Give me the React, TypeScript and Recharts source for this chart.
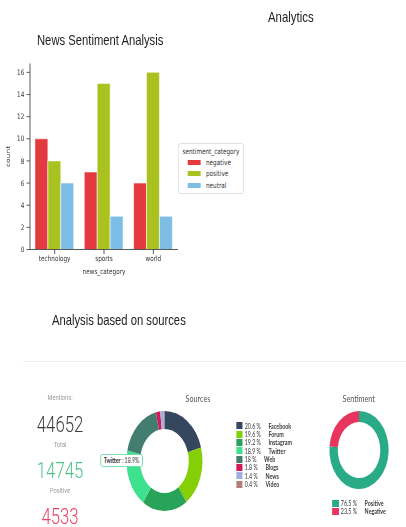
import React from 'react';
import { BarChart, Bar, XAxis, YAxis, Legend, Label, PieChart, Pie, Cell } from 'recharts';

// ---------- data ----------
const categories = ['technology', 'sports', 'world'];
const seriesNames = ['negative', 'positive', 'neutral'];
const seriesColors = ['#e33a3f', '#a9c21f', '#7dbde6'];
const negativeCounts = [10, 7, 6];
const positiveCounts = [8, 15, 16];
const neutralCounts = [6, 3, 3];
const yTicks = [0, 2, 4, 6, 8, 10, 12, 14, 16];

const sourceNames = ['Facebook', 'Forum', 'Instagram', 'Twitter', 'Web', 'Blogs', 'News', 'Video'];
const sourceShares = [20.6, 19.6, 19.2, 18.9, 18, 1.8, 1.4, 0.4];
const sourceColors = ['#34475f', '#84cf06', '#29a25a', '#3fe08e', '#437d6f', '#d3195a', '#9fb0e0', '#b0807a'];

const sentimentNames = ['Positive', 'Negative'];
const sentimentShares = [76.5, 23.5];
const sentimentColors = ['#2aab88', '#e83560'];

const mentionTotal = 44652;
const mentionPositive = 14745;
const mentionNegative = 4533;

// ---------- derived tables ----------
const barData = categories.map((c, i) => ({
  category: c,
  negative: negativeCounts[i],
  positive: positiveCounts[i],
  neutral: neutralCounts[i],
}));
const sourceData = sourceNames.map((n, i) => ({ name: n, value: sourceShares[i] }));
const sentimentData = sentimentNames.map((n, i) => ({ name: n, value: sentimentShares[i] }));

const S = 0.76;
const W = 534;
const dv = 'DejaVu Sans, sans-serif';
const lato = 'Lato, sans-serif';
const rob = 'Roboto, sans-serif';

const BarLegend = () => (
  <div style={{ width: 87, height: 51, boxSizing: 'border-box', border: '1px solid #dcdcdc', borderRadius: 3, background: '#fff', fontFamily: dv, fontSize: 7.5, color: '#333' }}>
    <div style={{ textAlign: 'center', marginTop: 1.5, height: 11, lineHeight: '11px' }}>sentiment_category</div>
    {seriesNames.map((n, i) => (
      <div key={n} style={{ display: 'flex', alignItems: 'center', height: 11.5, marginLeft: 12 }}>
        <span style={{ display: 'inline-block', flexShrink: 0, width: 17, height: 5, background: seriesColors[i], marginRight: 7 }} />
        <span style={{ lineHeight: '11.5px' }}>{n}</span>
      </div>
    ))}
  </div>
);

const PieLegend = (props: any) => {
  const { names, shares, colors, rowH } = props;
  return (
    <div style={{ fontFamily: lato, fontSize: 7, color: '#333' }}>
      {names.map((n: string, i: number) => (
        <div key={n} style={{ display: 'flex', alignItems: 'center', height: rowH, whiteSpace: 'nowrap' }}>
          <span style={{ display: 'inline-block', flexShrink: 0, width: 8.5, height: 7, background: colors[i], marginRight: 3 }} />
          <span style={{ lineHeight: rowH + 'px' }}>{shares[i]} %</span>
          <span style={{ lineHeight: rowH + 'px', marginLeft: 10, fontWeight: 700, color: '#3a3a3a' }}>{n}</span>
        </div>
      ))}
    </div>
  );
};

const txt = (content: any, cx: number, cy: number, size: number, color: string, family: string, weight: number = 400) => (
  <div style={{ position: 'absolute', left: cx - 100, width: 200, top: cy - size / 2, height: size, lineHeight: size + 'px', fontSize: size, color, fontFamily: family, fontWeight: weight, textAlign: 'center', whiteSpace: 'nowrap' }}>
    {content}
  </div>
);

export default function App() {
  return (
    <div style={{ position: 'absolute', left: 0, top: 0, width: 406, height: 527, overflow: 'hidden', background: '#fff' }}>
      <div style={{ position: 'absolute', left: 0, top: 0, width: W, height: 527, transform: `scaleX(${S})`, transformOrigin: '0 0' }}>
        {/* titles */}
        <div style={{ position: 'absolute', left: 352.6, top: 9, fontFamily: 'Liberation Sans, Arial, sans-serif', fontSize: 15, lineHeight: '15px', color: '#222' }}>Analytics</div>
        <div style={{ position: 'absolute', left: 48.7, top: 32.5, fontFamily: 'Liberation Sans, Arial, sans-serif', fontSize: 14.8, lineHeight: '14.8px', color: '#222' }}>News Sentiment Analysis</div>
        <div style={{ position: 'absolute', left: 68.4, top: 313, fontFamily: 'Liberation Sans, Arial, sans-serif', fontSize: 14.8, lineHeight: '14.8px', color: '#222' }}>Analysis based on sources</div>

        {/* bar chart */}
        <div style={{ position: 'absolute', left: 0, top: 0 }}>
          <BarChart width={330} height={290} data={barData} margin={{ top: 63.5, right: 95.8, left: 0, bottom: 10.5 }} barCategoryGap="10%" barGap={0}>
            <YAxis width={39.5} domain={[0, 16.8]} ticks={yTicks} tickSize={4.5} tickMargin={3} interval={0}
              tick={{ fontSize: 7.5, fill: '#333', fontFamily: dv }} axisLine={{ stroke: '#444', strokeWidth: 1 }} tickLine={{ stroke: '#444' }}>
              <Label content={(p: any) => {
                const vb = p.viewBox || { x: 0, y: 63.5, height: 186 };
                const x = 11;
                const y = vb.y + vb.height / 2;
                return <text x={x} y={y} transform={`rotate(-90 ${x} ${y})`} textAnchor="middle" dominantBaseline="central" fontSize={7.5} fill="#333" fontFamily={dv}>count</text>;
              }} />
            </YAxis>
            <XAxis dataKey="category" height={30} tickSize={4.5} tickMargin={1.5} interval={0}
              tick={{ fontSize: 7.5, fill: '#333', fontFamily: dv }} axisLine={{ stroke: '#444', strokeWidth: 1 }} tickLine={{ stroke: '#444' }}>
              <Label value="news_category" position="insideBottom" offset={5} style={{ fontSize: 7.5, fill: '#333', fontFamily: dv }} />
            </XAxis>
            {seriesNames.map((n, i) => (
              <Bar key={n} dataKey={n} name={n} fill={seriesColors[i]} stroke="#fff" strokeWidth={0.6} isAnimationActive={false} />
            ))}
            <Legend layout="vertical" align="center" verticalAlign="middle" wrapperStyle={{ left: 234, top: 143, width: 87, height: 51 }} content={<BarLegend />} />
          </BarChart>
        </div>

        {/* separator */}
        <div style={{ position: 'absolute', left: 30, top: 360.5, width: W - 30, height: 0, borderTop: '1px solid #eeeeee' }} />

        {/* mentions column */}
        {txt('Mentions:', 79, 398, 7.5, '#9a9a9a', rob)}
        {txt(String(mentionTotal), 79, 425, 22, '#3d3d3d', rob, 300)}
        {txt('Total', 79, 444.5, 7.5, '#9a9a9a', rob)}
        {txt(String(mentionPositive), 79, 470.5, 22, '#4cc48a', rob, 300)}
        {txt('Positive', 79, 491, 7.5, '#9a9a9a', rob)}
        {txt(String(mentionNegative), 79, 516.5, 22, '#e8426a', rob, 300)}

        {/* sources */}
        {txt('Sources', 260.5, 399, 9.5, '#555', lato)}
        <div style={{ position: 'absolute', left: 150, top: 395 }}>
          <PieChart width={230} height={130} margin={{ top: 0, right: 0, bottom: 0, left: 0 }}>
            <Pie data={sourceData} dataKey="value" nameKey="name" cx={66.4} cy={66} innerRadius={32} outerRadius={50} startAngle={90} endAngle={-270} stroke="none" isAnimationActive={false}>
              {sourceData.map((d, i) => <Cell key={d.name} fill={sourceColors[i]} />)}
            </Pie>
            <Legend layout="vertical" align="center" verticalAlign="middle" wrapperStyle={{ left: 160.5, top: 26.8, width: 70, height: 70 }}
              content={<PieLegend names={sourceNames} shares={sourceShares} colors={sourceColors} rowH={8.33} />} />
          </PieChart>
        </div>
        <div style={{ position: 'absolute', left: 131.6, top: 454, width: 56.6, height: 13, boxSizing: 'border-box', border: '1.5px solid #6bd8a3', borderRadius: 3, background: '#fff', fontFamily: lato, fontSize: 7, lineHeight: '10px', color: '#333', textAlign: 'center', whiteSpace: 'nowrap' }}>
          <b>Twitter</b> : 18.9%
        </div>

        {/* sentiment */}
        {txt('Sentiment', 472, 399, 9.5, '#555', lato)}
        <div style={{ position: 'absolute', left: 420, top: 395 }}>
          <PieChart width={110} height={130} margin={{ top: 0, right: 0, bottom: 0, left: 0 }}>
            <Pie data={sentimentData} dataKey="value" nameKey="name" cx={52.4} cy={55} innerRadius={28} outerRadius={39} startAngle={90} endAngle={-270} stroke="none" isAnimationActive={false}>
              {sentimentData.map((d, i) => <Cell key={d.name} fill={sentimentColors[i]} />)}
            </Pie>
            <Legend layout="vertical" align="center" verticalAlign="middle" wrapperStyle={{ left: 17, top: 104, width: 90, height: 17 }}
              content={<PieLegend names={sentimentNames} shares={sentimentShares} colors={sentimentColors} rowH={8} />} />
          </PieChart>
        </div>
      </div>
    </div>
  );
}
